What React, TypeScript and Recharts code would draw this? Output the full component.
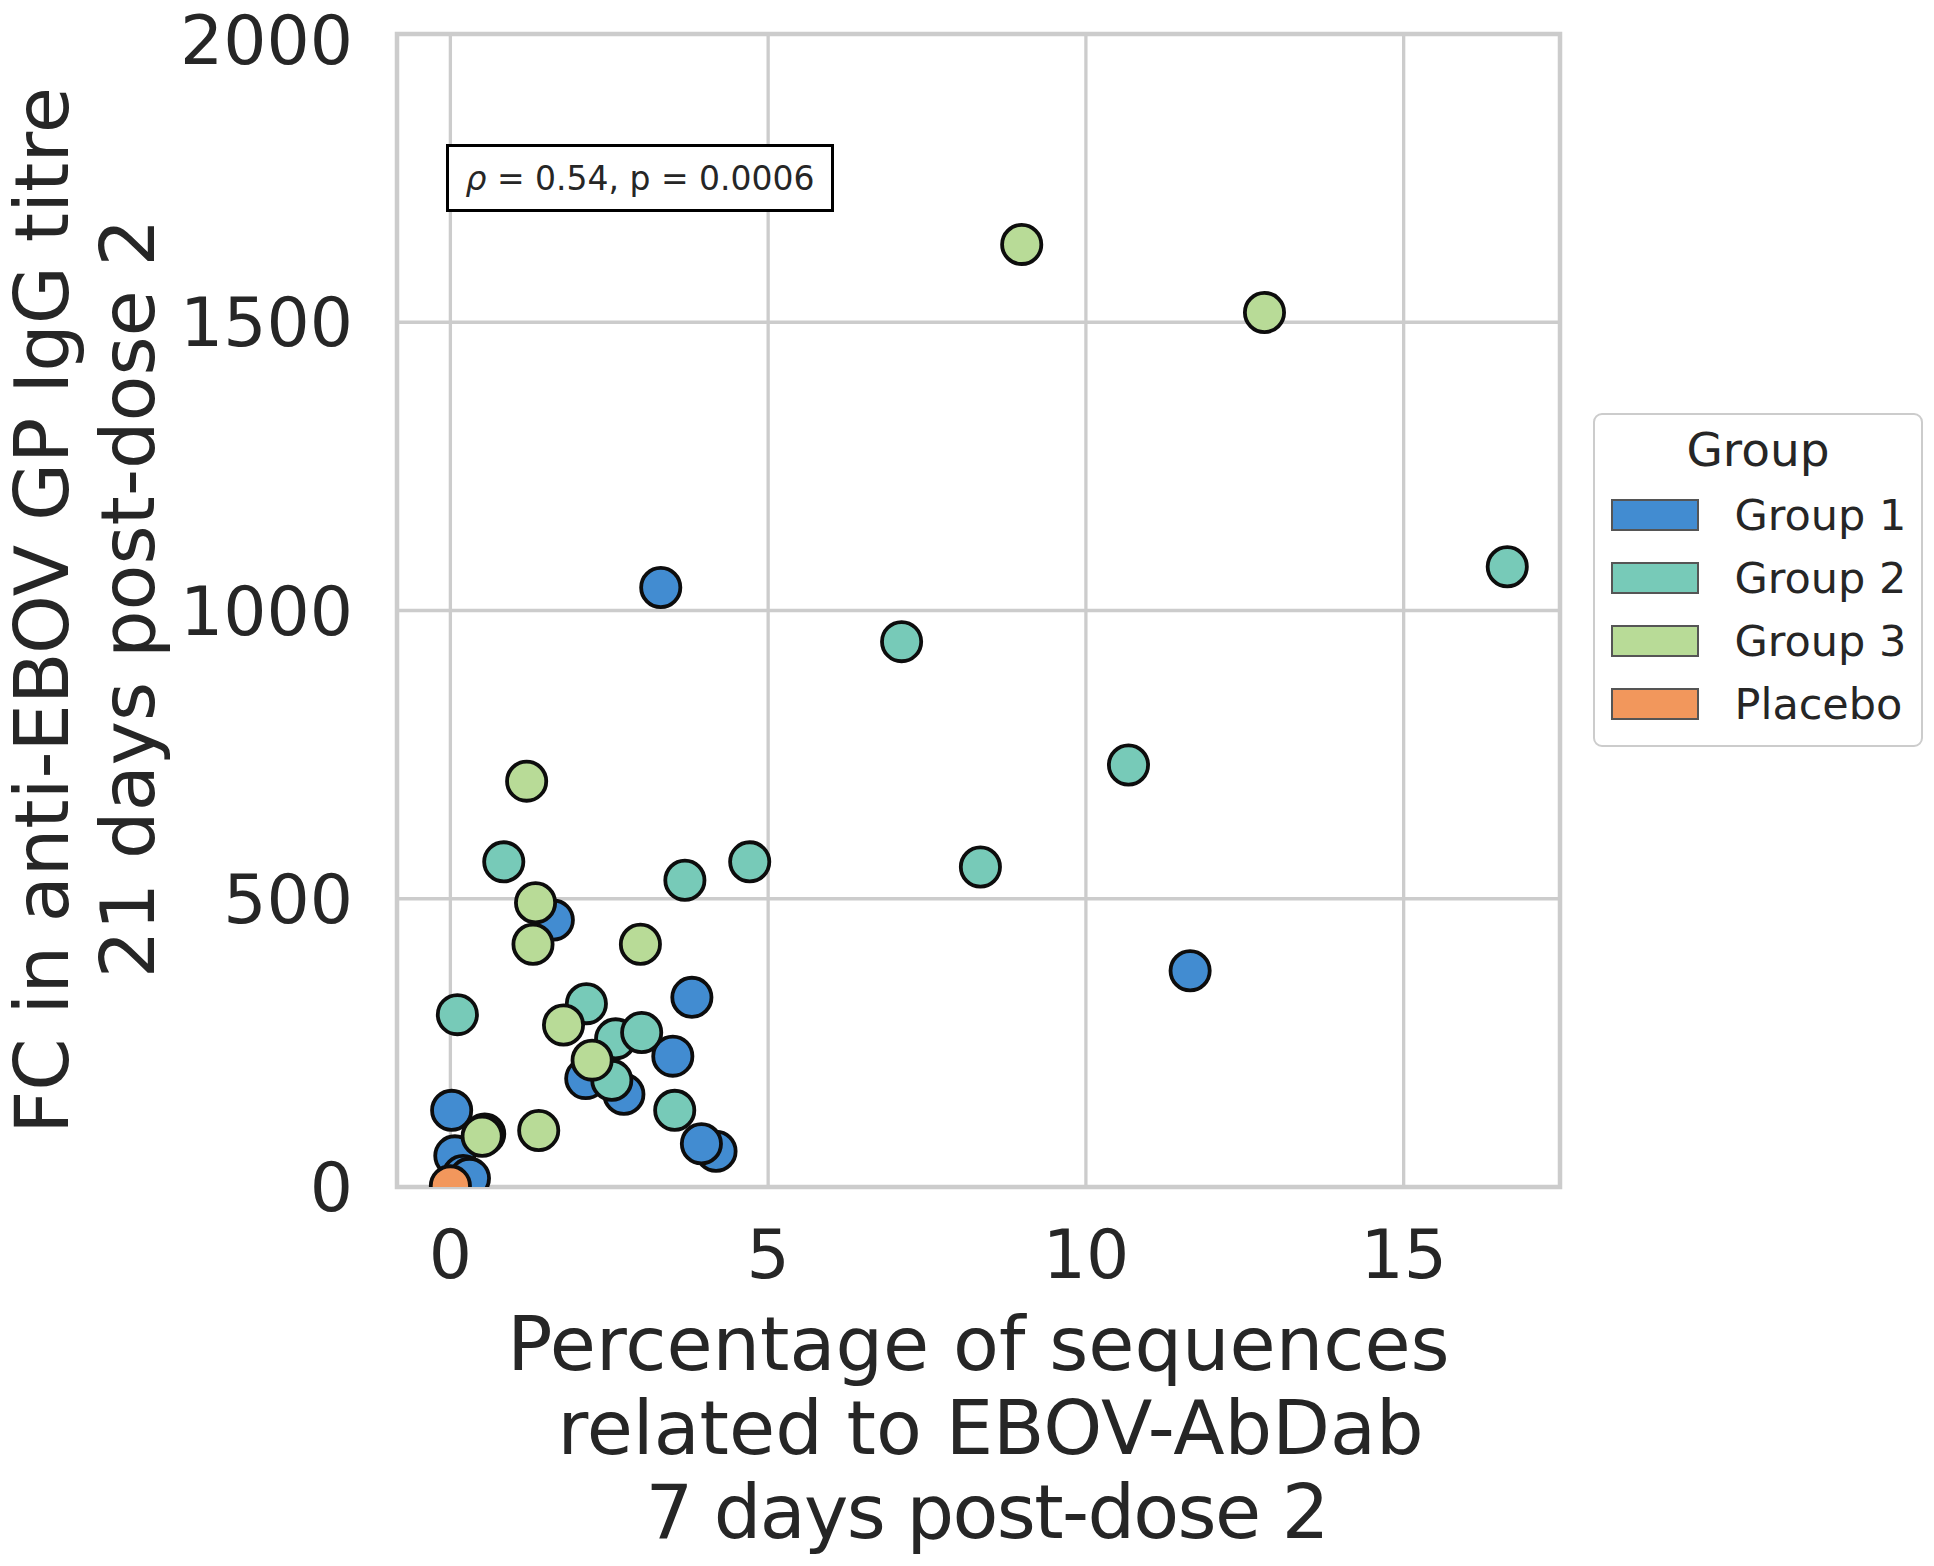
import React from 'react';
import {
  ScatterChart,
  Scatter,
  XAxis,
  YAxis,
  CartesianGrid,
  ReferenceArea,
  Legend,
} from 'recharts';

// values
const group1X = [3.31, 11.64, 3.8, 3.5, 1.62, 2.13, 2.73, 4.18, 3.95, 0.02, 0.07, 0.2, 0.3];
const group1Y = [1040, 375, 329, 227, 463, 188, 161, 62, 75, 133, 54, 20, 15];

const group2X = [16.63, 7.1, 10.67, 8.34, 4.71, 3.69, 0.84, 0.11, 2.14, 2.6, 3.01, 2.54, 3.53];
const group2Y = [1076, 946, 732, 555, 564, 532, 564, 299, 318, 257, 268, 185, 133];

const group3X = [8.99, 12.81, 1.2, 1.34, 1.3, 2.99, 1.78, 2.23, 0.54, 0.5, 1.39];
const group3Y = [1635, 1517, 704, 493, 421, 421, 281, 220, 92, 88, 98];

const placeboX = [0.0];
const placeboY = [2];

const groupNames = ['Group 1', 'Group 2', 'Group 3', 'Placebo'];
const groupColors = ['#428cd1', '#77cab8', '#b8db97', '#f2975c'];

const xTicks = [0, 5, 10, 15];
const yTicks = [0, 500, 1000, 1500, 2000];
const xDomain = [-0.84, 17.46];
const yDomain = [0, 2000];

const xLabelLines = ['Percentage of sequences', 'related to EBOV-AbDab', '7 days post-dose 2'];
const yLabelLines = ['FC in anti-EBOV GP IgG titre', '21 days post-dose 2'];
const legendTitle = 'Group';
const statText = ' = 0.54, p = 0.0006';

const FONT = '"DejaVu Sans", sans-serif';
const TEXT = '#262626';
const GRID = '#cccccc';

const W = 1934;
const H = 1560;
const Y_AXIS_W = 397;
const PLOT_TOP = 34;
const PLOT_RIGHT = 1560;
const PLOT_BOTTOM = 1187;

const toPoints = (xs: number[], ys: number[]) => xs.map((x, i) => ({ x, y: ys[i] }));

const series = [
  toPoints(group1X, group1Y),
  toPoints(group2X, group2Y),
  toPoints(group3X, group3Y),
  toPoints(placeboX, placeboY),
];

const Dot = (props: any) => (
  <circle cx={props.cx} cy={props.cy} r={19.6} fill={props.fill} stroke="#0d0d0d" strokeWidth={3.8} />
);

const xLineShift = [0, 12, 9];
// the last line of the x label is set a little tighter in the reference
const xLineLength = [undefined, undefined, 684];
const yLineShift = [0, -12];

const XLabel = (props: any) => {
  const vb = props.viewBox || { x: Y_AXIS_W, y: PLOT_BOTTOM, width: PLOT_RIGHT - Y_AXIS_W };
  const cx = vb.x + vb.width / 2;
  return (
    <g>
      {xLabelLines.map((line, i) => (
        <text
          key={i}
          x={cx + xLineShift[i]}
          y={vb.y + 183 + i * 84}
          textAnchor="middle"
          fontFamily={FONT}
          fontSize={75}
          fill={TEXT}
          textLength={xLineLength[i]}
          lengthAdjust={xLineLength[i] ? 'spacing' : undefined}
        >
          {line}
        </text>
      ))}
    </g>
  );
};

const YLabel = (props: any) => {
  const vb = props.viewBox || { x: 0, y: PLOT_TOP, height: PLOT_BOTTOM - PLOT_TOP };
  const cy = vb.y + vb.height / 2;
  return (
    <g>
      {yLabelLines.map((line, i) => {
        const bx = vb.x + 68 + i * 86;
        const by = cy + yLineShift[i];
        return (
          <text
            key={i}
            x={bx}
            y={by}
            transform={`rotate(-90, ${bx}, ${by})`}
            textAnchor="middle"
            fontFamily={FONT}
            fontSize={75}
            fill={TEXT}
          >
            {line}
          </text>
        );
      })}
    </g>
  );
};

const LegendBox = ({ payload }: any) => (
  <div
    style={{
      position: 'relative',
      width: 330,
      height: 334,
      boxSizing: 'border-box',
      border: `2.5px solid ${GRID}`,
      borderRadius: 9,
      background: '#fff',
      fontFamily: FONT,
      color: TEXT,
    }}
  >
    <div
      style={{
        position: 'absolute',
        left: 0,
        right: 0,
        top: 35 - 28,
        height: 56,
        lineHeight: '56px',
        textAlign: 'center',
        fontSize: 47,
      }}
    >
      {legendTitle}
    </div>
    {(payload || []).map((entry: any, i: number) => {
      const cy = 100 + i * 63;
      return (
        <React.Fragment key={entry.value}>
          <div
            style={{
              position: 'absolute',
              left: 15.5,
              top: cy - 16,
              width: 88,
              height: 32,
              boxSizing: 'border-box',
              border: '2.7px solid #555555',
              background: entry.color,
            }}
          />
          <div
            style={{
              position: 'absolute',
              left: 139.5,
              top: cy - 26,
              height: 52,
              lineHeight: '52px',
              fontSize: 43,
              whiteSpace: 'nowrap',
            }}
          >
            {entry.value}
          </div>
        </React.Fragment>
      );
    })}
  </div>
);

export default function App() {
  return (
    <div style={{ position: 'absolute', left: 0, top: 0, width: W, height: H, background: '#fff' }}>
      <ScatterChart
        width={W}
        height={H}
        margin={{ top: PLOT_TOP, right: W - PLOT_RIGHT, bottom: 0, left: 0 }}
      >
        <CartesianGrid stroke={GRID} strokeWidth={3.3} />
        <XAxis
          dataKey="x"
          type="number"
          domain={xDomain}
          ticks={xTicks}
          allowDataOverflow
          height={H - PLOT_BOTTOM}
          tickLine={false}
          axisLine={false}
          tickSize={0}
          tickMargin={43}
          tick={{ fontSize: 68, fill: TEXT, fontFamily: FONT }}
          label={XLabel}
        />
        <YAxis
          dataKey="y"
          type="number"
          domain={yDomain}
          ticks={yTicks}
          allowDataOverflow
          width={Y_AXIS_W}
          tickLine={false}
          axisLine={false}
          tickSize={0}
          tickMargin={44}
          tick={{ fontSize: 68, fill: TEXT, fontFamily: FONT }}
          label={YLabel}
        />
        {series.map((pts, i) => (
          <Scatter
            key={groupNames[i]}
            name={groupNames[i]}
            data={pts}
            fill={groupColors[i]}
            shape={Dot}
            isAnimationActive={false}
          />
        ))}
        <ReferenceArea
          x1={xDomain[0]}
          x2={xDomain[1]}
          y1={yDomain[0]}
          y2={yDomain[1]}
          fill="none"
          fillOpacity={0}
          stroke={GRID}
          strokeWidth={4.5}
          ifOverflow="visible"
        />
        <Legend
          layout="vertical"
          align="center"
          verticalAlign="middle"
          content={LegendBox}
          wrapperStyle={{ left: 1593, top: 413, width: 330, height: 334 }}
        />
      </ScatterChart>
      <div
        style={{
          position: 'absolute',
          left: 446,
          top: 144,
          width: 388,
          height: 68,
          boxSizing: 'border-box',
          border: '3px solid #000',
          background: '#fff',
          display: 'flex',
          alignItems: 'center',
          justifyContent: 'center',
          fontFamily: FONT,
          fontSize: 33,
          color: TEXT,
          whiteSpace: 'pre',
        }}
      >
        <span style={{ fontStyle: 'italic' }}>ρ</span>
        {statText}
      </div>
    </div>
  );
}
